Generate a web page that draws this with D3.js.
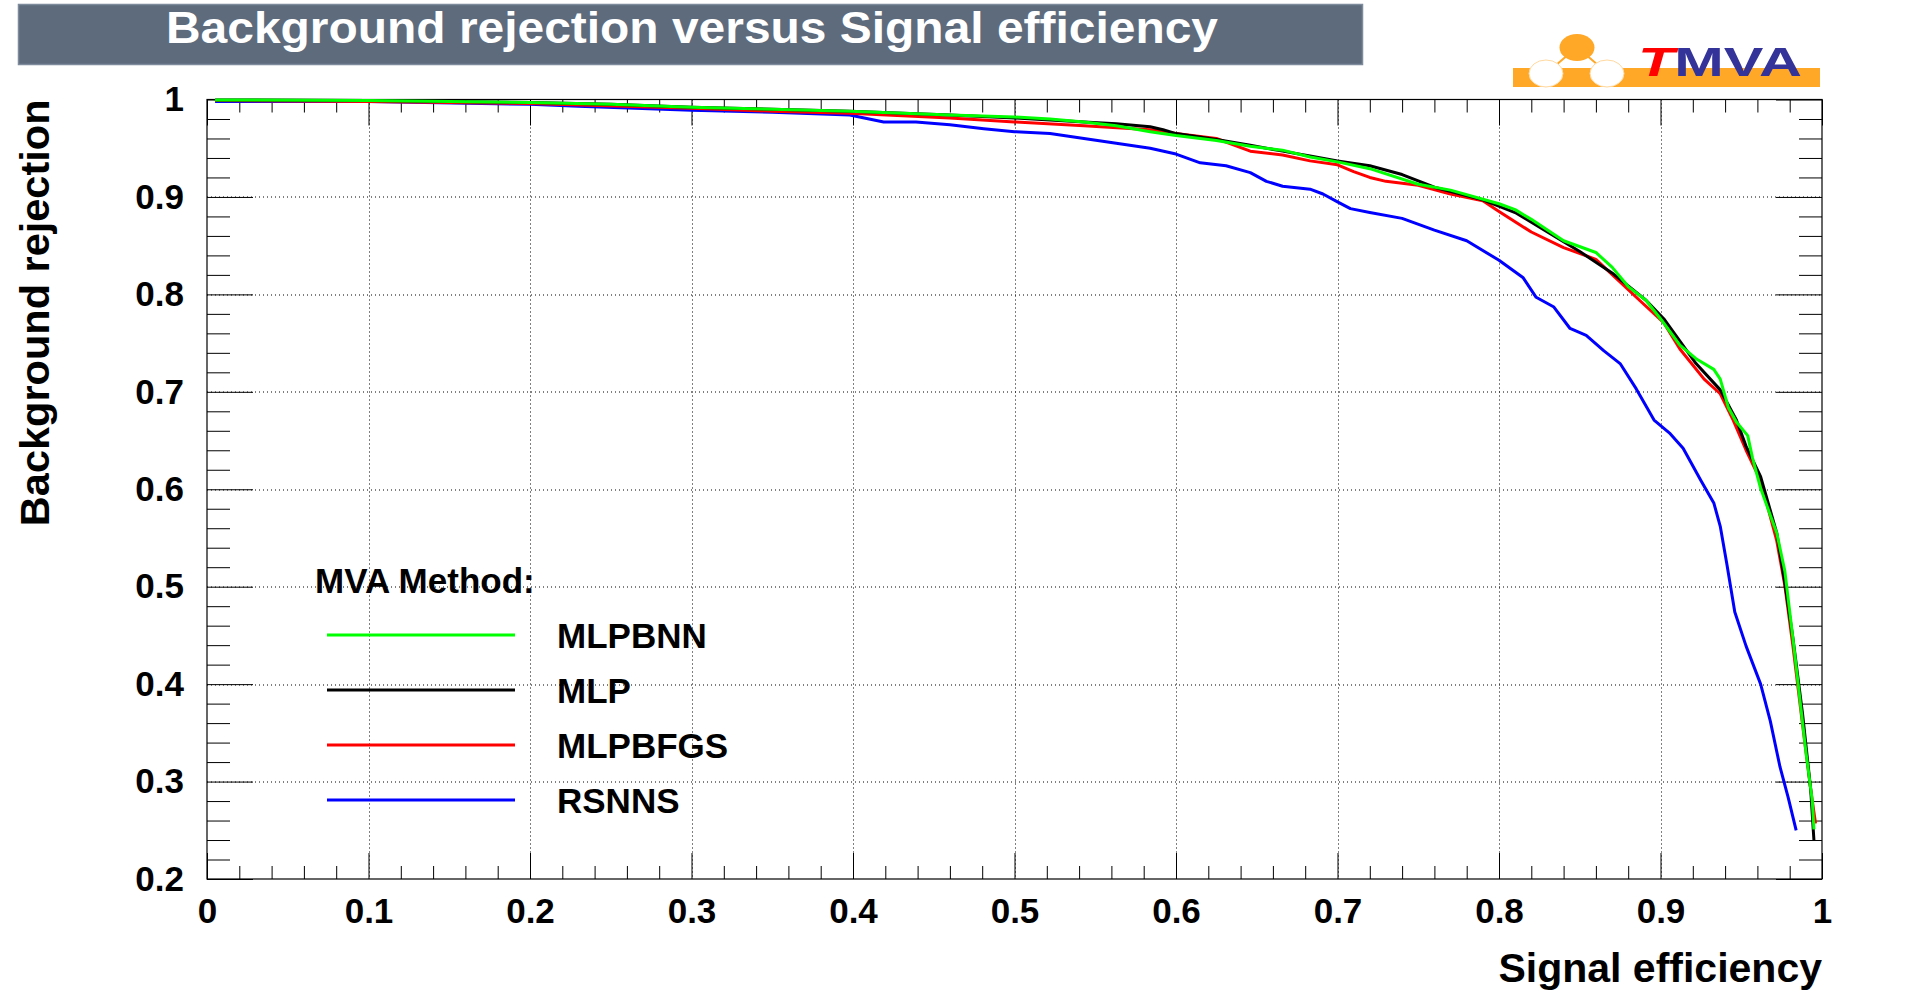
<!DOCTYPE html>
<html>
<head>
<meta charset="utf-8">
<script src="https://cdn.jsdelivr.net/npm/d3@7"></script>
<style>
  html, body { margin: 0; padding: 0; background: #fff; }
  svg { display: block; font-family: "Liberation Sans", Arial, Helvetica, sans-serif; font-weight: bold; }
</style>
</head>
<body>
<svg id="chart"></svg>
<script>
// --- data: [signal efficiency, background rejection]
const mlpbnn = [
  [0.005, 0.9995], [0.1, 0.999], [0.2, 0.997], [0.25, 0.995], [0.3, 0.992], [0.35, 0.990],
  [0.398, 0.988], [0.46, 0.984], [0.5, 0.982], [0.522, 0.980], [0.543, 0.977], [0.563, 0.973],
  [0.584, 0.967], [0.6, 0.963], [0.625, 0.958], [0.646, 0.952], [0.666, 0.948], [0.683, 0.941],
  [0.7, 0.936], [0.72, 0.929], [0.75, 0.913], [0.77, 0.907], [0.8, 0.893], [0.81, 0.887],
  [0.82, 0.877], [0.84, 0.855], [0.86, 0.843], [0.87, 0.828], [0.88, 0.808], [0.891, 0.794],
  [0.9, 0.775], [0.912, 0.748], [0.922, 0.734], [0.933, 0.723], [0.937, 0.713], [0.942, 0.684],
  [0.947, 0.669], [0.954, 0.655], [0.957, 0.632], [0.962, 0.601], [0.967, 0.578], [0.972, 0.555],
  [0.977, 0.516], [0.982, 0.447], [0.986, 0.389], [0.990, 0.331], [0.994, 0.280], [0.995, 0.251]
]

const mlp = [
  [0.005, 0.9995], [0.1, 0.999], [0.2, 0.997], [0.25, 0.995], [0.3, 0.992], [0.35, 0.990],
  [0.398, 0.988], [0.46, 0.984], [0.5, 0.981], [0.522, 0.979], [0.543, 0.977], [0.563, 0.975],
  [0.584, 0.972], [0.592, 0.969], [0.6, 0.965], [0.625, 0.959], [0.646, 0.953], [0.666, 0.947],
  [0.683, 0.942], [0.7, 0.937], [0.72, 0.932], [0.74, 0.923], [0.76, 0.910], [0.79, 0.897],
  [0.81, 0.884], [0.83, 0.864], [0.85, 0.844], [0.87, 0.822], [0.891, 0.794], [0.902, 0.775],
  [0.912, 0.752], [0.922, 0.729], [0.937, 0.702], [0.947, 0.671], [0.953, 0.644], [0.962, 0.613],
  [0.972, 0.555], [0.977, 0.504], [0.982, 0.447], [0.988, 0.369], [0.993, 0.292], [0.995, 0.240]
]

const mlpbfgs = [
  [0.005, 0.999], [0.1, 0.998], [0.2, 0.996], [0.3, 0.991], [0.35, 0.988], [0.398, 0.986],
  [0.46, 0.981], [0.5, 0.977], [0.543, 0.973], [0.584, 0.969], [0.6, 0.965], [0.625, 0.960],
  [0.646, 0.947], [0.666, 0.943], [0.683, 0.937], [0.7, 0.933], [0.71, 0.926], [0.72, 0.920],
  [0.73, 0.916], [0.75, 0.912], [0.77, 0.903], [0.79, 0.896], [0.80, 0.885], [0.82, 0.864],
  [0.84, 0.848], [0.86, 0.836], [0.887, 0.794], [0.902, 0.771], [0.912, 0.744], [0.927, 0.713],
  [0.937, 0.698], [0.945, 0.671], [0.953, 0.640], [0.962, 0.609], [0.972, 0.547], [0.977, 0.501],
  [0.982, 0.439], [0.988, 0.358], [0.993, 0.292], [0.996, 0.257]
]

const rsnns = [
  [0.005, 0.998], [0.1, 0.998], [0.2, 0.995], [0.23, 0.993], [0.3, 0.989], [0.35, 0.987],
  [0.398, 0.984], [0.419, 0.977], [0.439, 0.977], [0.46, 0.974], [0.481, 0.970], [0.5, 0.967],
  [0.522, 0.965], [0.543, 0.960], [0.563, 0.955], [0.584, 0.950], [0.6, 0.944], [0.615, 0.935],
  [0.631, 0.932], [0.646, 0.925], [0.656, 0.916], [0.666, 0.911], [0.683, 0.908], [0.691, 0.903],
  [0.7, 0.895], [0.708, 0.888], [0.72, 0.884], [0.74, 0.878], [0.76, 0.866], [0.78, 0.855],
  [0.8, 0.835], [0.815, 0.817], [0.823, 0.797], [0.834, 0.787], [0.844, 0.765], [0.854, 0.758],
  [0.865, 0.742], [0.875, 0.729], [0.885, 0.703], [0.896, 0.671], [0.906, 0.657], [0.914, 0.642],
  [0.925, 0.609], [0.933, 0.586], [0.937, 0.562], [0.941, 0.524], [0.946, 0.474], [0.953, 0.439],
  [0.962, 0.400], [0.968, 0.362], [0.974, 0.315], [0.979, 0.284], [0.984, 0.250]
]

const methods = ["MLPBNN", "MLP", "MLPBFGS", "RSNNS"]
const methodColors = ["#00ff00", "#000000", "#ff0000", "#0000ff"]
const xTickValues = [0, 0.1, 0.2, 0.3, 0.4, 0.5, 0.6, 0.7, 0.8, 0.9, 1]
const xTickLabels = ["0", "0.1", "0.2", "0.3", "0.4", "0.5", "0.6", "0.7", "0.8", "0.9", "1"]
const yTickValues = [0.2, 0.3, 0.4, 0.5, 0.6, 0.7, 0.8, 0.9, 1]
const yTickLabels = ["0.2", "0.3", "0.4", "0.5", "0.6", "0.7", "0.8", "0.9", "1"]

const width = 1918, height = 999
const margin = { top: 99.5, right: 96, bottom: 120, left: 207 }
const w = width - margin.left - margin.right
const h = height - margin.top - margin.bottom

const svg = d3.select('#chart')
    .attr('width', width)
    .attr('height', height)

// title box
svg.append('rect')
  .attr('x', 18.5).attr('y', 4.5)
  .attr('width', 1344).attr('height', 60)
  .attr('fill', '#5D6B7D')
  .attr('stroke', '#7D8B9D')
  .attr('stroke-width', 1.5)

svg.append('text')
  .attr('x', 166).attr('y', 43)
  .attr('fill', '#fff')
  .style('font-size', '44px')
  .attr('textLength', 1052)
  .attr('lengthAdjust', 'spacingAndGlyphs')
  .text('Background rejection versus Signal efficiency')

// TMVA logo
const logo = svg.append('g')
const orange = '#FFA726'
logo.append('line').attr('x1', 1577).attr('y1', 47).attr('x2', 1548).attr('y2', 72)
  .attr('stroke', orange).attr('stroke-width', 2)
logo.append('line').attr('x1', 1577).attr('y1', 47).attr('x2', 1606).attr('y2', 72)
  .attr('stroke', orange).attr('stroke-width', 2)
logo.append('rect').attr('x', 1513).attr('y', 68).attr('width', 307).attr('height', 19).attr('fill', orange)
logo.append('ellipse').attr('cx', 1577).attr('cy', 47.5).attr('rx', 17.5).attr('ry', 13.5).attr('fill', orange)
;[1546, 1607].forEach(cx => {
  logo.append('ellipse').attr('cx', cx).attr('cy', 73.5).attr('rx', 17).attr('ry', 13.5)
    .attr('fill', '#fff').attr('stroke', '#ffd9a0').attr('stroke-width', 1)
})
const logoText = logo.append('text')
  .attr('x', 1638).attr('y', 76)
  .style('font-size', '40px')
  .attr('textLength', 164)
  .attr('lengthAdjust', 'spacingAndGlyphs')
logoText.append('tspan').attr('fill', '#ff0000').style('font-style', 'italic').text('T')
logoText.append('tspan').attr('fill', '#333399').text('MVA')

const chart = svg.append('g')
    .attr('transform', `translate(${margin.left}, ${margin.top})`)

const x = d3.scaleLinear().domain([0, 1]).range([0, w])
const y = d3.scaleLinear().domain([0.2, 1]).range([h, 0])

const xMinor = d3.range(0, 51).map(i => i / 50).filter(v => xTickValues.indexOf(v) < 0 && Math.abs(v * 10 - Math.round(v * 10)) > 1e-6)
const yMinor = d3.range(10, 51).map(i => i / 50).filter(v => Math.abs(v * 10 - Math.round(v * 10)) > 1e-6)

// dotted grid
chart.append('g').selectAll('line.gx')
  .data(xTickValues.slice(1, -1))
  .join('line')
    .attr('class', 'gx')
    .attr('x1', d => Math.round(x(d)) + 0.5).attr('x2', d => Math.round(x(d)) + 0.5)
    .attr('y1', 0).attr('y2', h)
chart.append('g').selectAll('line.gy')
  .data(yTickValues.slice(1, -1))
  .join('line')
    .attr('class', 'gy')
    .attr('x1', 0).attr('x2', w)
    .attr('y1', d => Math.round(y(d)) + 0.5).attr('y2', d => Math.round(y(d)) + 0.5)
chart.selectAll('line.gx, line.gy')
  .attr('stroke', '#000')
  .attr('stroke-width', 1)
  .attr('stroke-dasharray', '1,3')

// axes, ticks pointing inward (ROOT style)
const fmtX = d => xTickLabels[xTickValues.indexOf(d)]
const fmtY = d => yTickLabels[yTickValues.indexOf(d)]

function styleAxis(g) {
  g.select('.domain').remove()
  g.selectAll('line').attr('stroke', '#000').attr('stroke-width', 1)
  g.selectAll('text').style('font-size', '35px').attr('fill', '#000').style('font-weight', 'bold')
}

chart.append('g')
  .attr('transform', `translate(0, ${h})`)
  .call(d3.axisBottom(x).tickValues(xTickValues).tickFormat(fmtX).tickSize(-26).tickPadding(19))
  .call(styleAxis)
chart.append('g')
  .attr('transform', `translate(0, ${h})`)
  .call(d3.axisBottom(x).tickValues(xMinor).tickFormat('').tickSize(-13))
  .call(styleAxis)
chart.append('g')
  .call(d3.axisTop(x).tickValues(xTickValues).tickFormat('').tickSize(-26))
  .call(styleAxis)
chart.append('g')
  .call(d3.axisTop(x).tickValues(xMinor).tickFormat('').tickSize(-13))
  .call(styleAxis)

chart.append('g')
  .call(d3.axisLeft(y).tickValues(yTickValues).tickFormat(fmtY).tickSize(-46).tickPadding(23))
  .call(styleAxis)
chart.append('g')
  .call(d3.axisLeft(y).tickValues(yMinor).tickFormat('').tickSize(-23))
  .call(styleAxis)
chart.append('g')
  .attr('transform', `translate(${w}, 0)`)
  .call(d3.axisRight(y).tickValues(yTickValues).tickFormat('').tickSize(-46))
  .call(styleAxis)
chart.append('g')
  .attr('transform', `translate(${w}, 0)`)
  .call(d3.axisRight(y).tickValues(yMinor).tickFormat('').tickSize(-23))
  .call(styleAxis)

// frame
chart.append('rect')
  .attr('x', 0).attr('y', 0)
  .attr('width', w).attr('height', h)
  .attr('fill', 'none')
  .attr('stroke', '#000')
  .attr('stroke-width', 1.2)

// axis titles
chart.append('text')
  .attr('x', w).attr('y', h + 103)
  .style('text-anchor', 'end')
  .style('font-size', '41px')
  .text('Signal efficiency')

chart.append('text')
  .attr('transform', 'rotate(-90)')
  .attr('x', 0).attr('y', 49 - margin.left)
  .style('text-anchor', 'end')
  .style('font-size', '41.5px')
  .text('Background rejection')

// curves
const line = d3.line()
  .x(d => x(d[0]))
  .y(d => y(d[1]))

const series = [mlpbnn, mlp, mlpbfgs, rsnns]
const drawOrder = [3, 2, 1, 0]
drawOrder.forEach(i => {
  chart.append('path')
    .datum(series[i])
    .attr('fill', 'none')
    .attr('stroke', methodColors[i])
    .attr('stroke-width', 3)
    .attr('stroke-linejoin', 'round')
    .attr('d', line)
})

// legend
const legend = svg.append('g')
legend.append('text')
  .attr('x', 315).attr('y', 593)
  .style('font-size', '35px')
  .text('MVA Method:')

const item = legend.selectAll('.item')
  .data(methods)
  .join('g')
    .attr('class', 'item')
    .attr('transform', (d, i) => `translate(0, ${635 + i * 55})`)
item.append('line')
  .attr('x1', 327).attr('x2', 515)
  .attr('y1', 0).attr('y2', 0)
  .attr('stroke', (d, i) => methodColors[i])
  .attr('stroke-width', 3)
item.append('text')
  .attr('x', 557).attr('y', 12.5)
  .style('font-size', '35px')
  .text(d => d)
</script>
</body>
</html>
